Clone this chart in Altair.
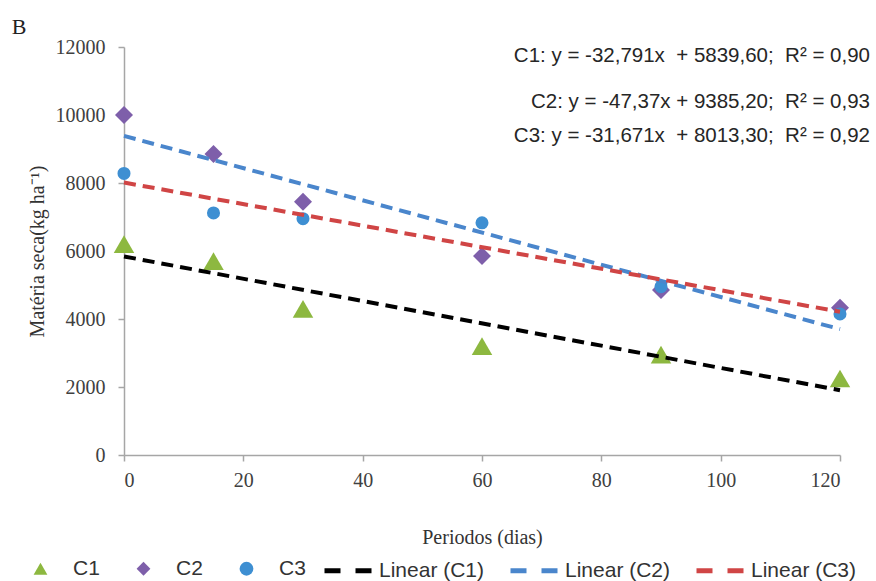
import altair as alt
import pandas as pd

# ---- data ----
days = [0, 15, 30, 60, 90, 120]
c1 = [6200, 5700, 4300, 3200, 2950, 2250]
c2 = [10000, 8850, 7450, 5850, 4850, 4330]
c3 = [8280, 7120, 6950, 6830, 4950, 4150]
series = ["C1", "C2", "C3"]

trend_names = ["Linear (C1)", "Linear (C2)", "Linear (C3)"]
trend_days = [0, 120]
trend_start = [5839.6, 9385.2, 8013.3]
trend_end = [1904.7, 3700.8, 4212.8]

NB = "\u00a0"
equations = [
    f"C1: y = -32,791x{NB} + 5839,60;{NB} R² = 0,90",
    f"C2: y = -47,37x + 9385,20;{NB} R² = 0,93",
    f"C3: y = -31,671x{NB} + 8013,30;{NB} R² = 0,92",
]
x_ticks = [0, 20, 40, 60, 80, 100, 120]
y_ticks = [0, 2000, 4000, 6000, 8000, 10000, 12000]

# ---- styles ----
pt_colors = ["#8DB840", "#7E5FAA", "#3E8FD2"]
pt_shapes = ["triangle-up", "diamond", "circle"]
pt_sizes = [420, 324, 170]
ln_colors = ["#000000", "#4A86CC", "#D04545"]
eq_y_px = [9, 55, 89]

W, H = 716, 408
SERIF = "Liberation Serif"
SANS = "Liberation Sans"

rows = []
for name, vals in zip(series, [c1, c2, c3]):
    for d, v in zip(days, vals):
        rows.append({"series": name, "day": d, "value": v})
pts = pd.DataFrame(rows)

lrows = []
for name, a, b in zip(trend_names, trend_start, trend_end):
    lrows.append({"trend": name, "day": trend_days[0], "value": a})
    lrows.append({"trend": name, "day": trend_days[1], "value": b})
lines = pd.DataFrame(lrows)

X = alt.X("day:Q", scale=alt.Scale(domain=[0, 120], nice=False),
          axis=alt.Axis(values=x_ticks, title="Periodos (dias)", format="d",
                        labelPadding=9, titlePadding=37))
Y = alt.Y("value:Q", scale=alt.Scale(domain=[0, 12000], nice=False),
          axis=alt.Axis(values=y_ticks, title="Matéria seca(kg ha⁻¹)", format="d",
                        labelPadding=13, titleX=-87, titleY=H / 2,
                        titleAngle=270, titleAlign="center", titleBaseline="middle"))

pt_legend = alt.Legend(orient="none", legendX=-94, legendY=511, direction="horizontal",
                       title=None, symbolSize=190, labelOffset=22, columnPadding=33,
                       labelFont=SANS, labelFontSize=21, labelColor="#333333",
                       symbolStrokeWidth=0, padding=0)

layers = []
for name, size in zip(series, pt_sizes):
    layers.append(
        alt.Chart(pts).transform_filter(alt.datum.series == name)
        .mark_point(filled=True, opacity=1, size=size).encode(
            x=X, y=Y,
            color=alt.Color("series:N", scale=alt.Scale(domain=series, range=pt_colors), legend=pt_legend),
            shape=alt.Shape("series:N", scale=alt.Scale(domain=series, range=pt_shapes), legend=pt_legend),
        )
    )

ln_legend = alt.Legend(orient="none", legendX=198, legendY=497, direction="horizontal",
                       title=None, symbolType="stroke", symbolSize=2304, symbolStrokeWidth=5,
                       symbolDash=[16, 15], labelOffset=4, columnPadding=15,
                       labelFont=SANS, labelFontSize=21, labelColor="#333333", padding=0)

trend = alt.Chart(lines).mark_line(strokeDash=[12, 7], strokeWidth=4).encode(
    x="day:Q", y="value:Q",
    stroke=alt.Stroke("trend:N", scale=alt.Scale(domain=trend_names, range=ln_colors), legend=ln_legend),
)
layers.append(trend)

for txt, yy in zip(equations, eq_y_px):
    layers.append(
        alt.Chart(pd.DataFrame({"t": [txt]})).mark_text(
            align="right", baseline="middle", font=SANS, fontSize=20.5, color="#262626"
        ).encode(x=alt.value(746), y=alt.value(yy), text="t:N")
    )
layers.append(
    alt.Chart(pd.DataFrame({"t": ["B"]})).mark_text(
        align="center", baseline="middle", font=SERIF, fontSize=22, color="#222222"
    ).encode(x=alt.value(-105), y=alt.value(-20), text="t:N")
)

chart = alt.layer(*layers).properties(
    width=W, height=H,
    autosize=alt.AutoSizeParams(type="none"),
    padding={"left": 124, "top": 47, "right": 36, "bottom": 126},
).configure_view(stroke=None).configure_axis(
    grid=False, domainColor="#A6A6A6", domainWidth=1.5, tickColor="#A6A6A6", tickWidth=1.5,
    tickSize=6, labelFont=SERIF, labelFontSize=20, labelColor="#404040",
    titleFont=SERIF, titleFontSize=20, titleFontWeight="normal", titleColor="#333333",
)

chart.save("out.html", embed_options={"renderer": "svg", "actions": False})
